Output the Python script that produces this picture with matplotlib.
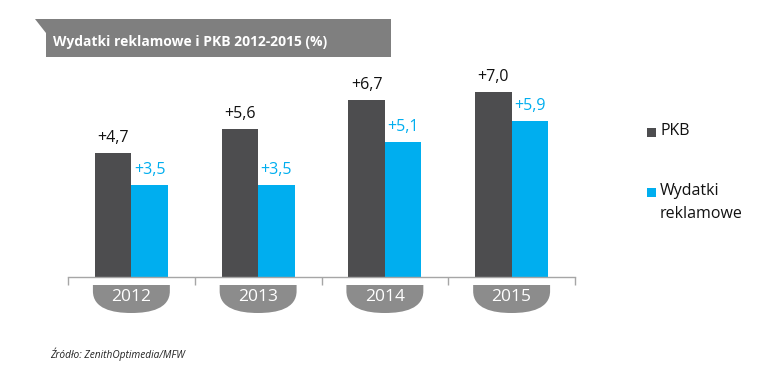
import matplotlib
matplotlib.use("Agg")
import matplotlib.pyplot as plt
from matplotlib.path import Path
from matplotlib.patches import PathPatch, Polygon
import matplotlib.transforms as mtransforms

plt.rcParams['font.family'] = ['Open Sans', 'DejaVu Sans']

years = ["2012", "2013", "2014", "2015"]
pkb = [4.7, 5.6, 6.7, 7.0]
wydatki = [3.5, 3.5, 5.1, 5.9]
pkb_labels = ["+4,7", "+5,6", "+6,7", "+7,0"]
wyd_labels = ["+3,5", "+3,5", "+5,1", "+5,9"]
series_names = ["PKB", "Wydatki\nreklamowe"]
title = "Wydatki reklamowe i PKB 2012-2015 (%)"
source = "Źródło: ZenithOptimedia/MFW"

DARK = "#4d4d4f"
BLUE = "#00aeef"
GRAY = "#8c8c8c"

W, H = 775, 372
fig = plt.figure(figsize=(W / 100, H / 100), dpi=100)

def fx(px):
    return px / W

def fy(py):
    return 1 - py / H

ax_left, ax_right, ax_bottom, ax_top = 68, 575, 277, 60
ax = fig.add_axes([fx(ax_left), fy(ax_bottom), fx(ax_right - ax_left), (ax_bottom - ax_top) / H])
ymax = (ax_bottom - ax_top) / 26.4
ax.set_ylim(0, ymax)
ax.set_xlim(-0.5, len(years) - 0.5)

bw = 0.287
xs = list(range(len(years)))
ax.bar([x - bw / 2 for x in xs], pkb, width=bw, color=DARK, zorder=2)
ax.bar([x + bw / 2 for x in xs], wydatki, width=bw, color=BLUE, zorder=2)

for x, v, lab in zip(xs, pkb, pkb_labels):
    ax.text(x - bw / 2, v, lab, transform=mtransforms.offset_copy(ax.transData, fig=fig, x=0, y=15, units='dots'),
            ha='center', va='center', fontsize=11.5, color='#111111')
for x, v, lab in zip(xs, wydatki, wyd_labels):
    ax.text(x + bw / 2, v, lab, transform=mtransforms.offset_copy(ax.transData, fig=fig, x=0, y=15, units='dots'),
            ha='center', va='center', fontsize=11.5, color=BLUE)

for s in ['top', 'right', 'left']:
    ax.spines[s].set_visible(False)
ax.spines['bottom'].set_color('#a6a6a6')
ax.spines['bottom'].set_linewidth(1.0)
ax.set_yticks([])
ax.set_xticks([i - 0.5 for i in range(len(years) + 1)])
ax.set_xticklabels([])
ax.tick_params(axis='x', direction='out', length=5.5, color='#a6a6a6', width=1.0)

# year pills
trans = mtransforms.blended_transform_factory(ax.transData, ax.transAxes)
ah = ax_bottom - ax_top
top_y = -(285 - ax_bottom) / ah
bend_y = -(291 - ax_bottom) / ah
bot_y = -(313 - ax_bottom) / ah
pw = 0.607
for x, yr in zip(xs, years):
    x0, x1 = x - pw / 2, x + pw / 2
    verts = [
        (x0, top_y), (x1, top_y), (x1, bend_y),
        (x1, bot_y + 0.02), (x + pw * 0.25, bot_y), (x, bot_y),
        (x - pw * 0.25, bot_y), (x0, bot_y + 0.02), (x0, bend_y),
        (x0, top_y),
    ]
    codes = [Path.MOVETO, Path.LINETO, Path.LINETO,
             Path.CURVE4, Path.CURVE4, Path.CURVE4,
             Path.CURVE4, Path.CURVE4, Path.CURVE4,
             Path.CLOSEPOLY]
    p = PathPatch(Path(verts, codes), transform=trans, facecolor=GRAY, edgecolor='none', clip_on=False)
    ax.add_patch(p)
    ax.text(x, (top_y + bot_y) / 2 + 0.008, yr, transform=trans, ha='center', va='center',
            fontsize=12.5, color='white')

# title banner
banner = Polygon([(fx(35), fy(19)), (fx(391), fy(19)), (fx(391), fy(57)), (fx(46), fy(57)), (fx(46), fy(33))],
                 closed=True, transform=fig.transFigure, facecolor='#7f7f7f', edgecolor='none')
fig.patches.append(banner)
fig.text(fx(53), fy(42), title, ha='left', va='center', fontsize=10, fontweight='bold', color='white')

# legend
for (py, name, col) in [(132, series_names[0], DARK), (192, series_names[1], BLUE)]:
    fig.patches.append(plt.Rectangle((fx(647), fy(py + 5)), fx(9), 9 / H, transform=fig.transFigure,
                                     facecolor=col, edgecolor='none'))
    fig.text(fx(660), fy(py - 9), name, ha='left', va='top', fontsize=11.5, color='#111111', linespacing=1.6)

fig.text(fx(50), fy(354), source, ha='left', va='center', fontsize=7.3, style='italic', color='#222222')

fig.savefig("out.png", dpi=100, facecolor='white')
